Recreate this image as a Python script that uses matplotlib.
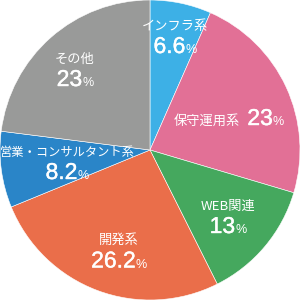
import matplotlib
matplotlib.use("Agg")
import matplotlib.pyplot as plt
import matplotlib.patheffects as pe
from matplotlib.offsetbox import TextArea, HPacker, AnnotationBbox

# data (percent, clockwise from 12 o'clock)
categories = ["インフラ系", "保守運用系", "WEB関連", "開発系", "営業・コンサルタント系", "その他"]
values = [6.6, 23, 13, 26.2, 8.2, 23]
value_labels = ["6.6", "23", "13", "26.2", "8.2", "23"]
colors = ["#3DB0E6", "#E27096", "#45A85E", "#EA6E4A", "#2A85C8", "#999A99"]

# where the percentage sits (pie radius = 1); the name goes just above it
label_pos = [(0.167, 0.69), (0.527, 0.21), (0.52, -0.51), (-0.207, -0.74), (-0.553, -0.15), (-0.5, 0.47)]
one_line = [False, True, False, False, False, False]
name_gap = 0.135

num_font = "Liberation Sans"
jp_font = ["Noto Sans CJK JP", "DejaVu Sans"]
heavier = [pe.withStroke(linewidth=0.3, foreground="white")]

fig = plt.figure(figsize=(3, 3), dpi=100)
ax = fig.add_axes([0, 0, 1, 1])
ax.pie(values, colors=colors, startangle=90, counterclock=False, radius=1,
       wedgeprops={"edgecolor": "white", "linewidth": 0.4})
ax.set_xlim(-1.0, 1.0)
ax.set_ylim(-1.0, 1.0)
ax.set_aspect("equal")
ax.axis("off")


def value_box(txt):
    big = TextArea(txt, textprops=dict(color="white", fontsize=16.5, family=num_font,
                                       path_effects=heavier))
    pct = TextArea("%", textprops=dict(color="white", fontsize=9, family=num_font))
    return HPacker(children=[big, pct], align="baseline", pad=0, sep=0)


for name, val, (x, y), single in zip(categories, value_labels, label_pos, one_line):
    fs = 8.8 if len(name) > 8 else 9.5
    if single:
        nm = TextArea(name, textprops=dict(color="white", fontsize=fs, family=jp_font))
        box = HPacker(children=[nm, value_box(val)], align="baseline", pad=0, sep=5)
        ax.add_artist(AnnotationBbox(box, (x, y), frameon=False, pad=0))
    else:
        ax.text(x, y + name_gap, name, color="white", fontsize=fs, family=jp_font,
                ha="center", va="center")
        ax.add_artist(AnnotationBbox(value_box(val), (x, y), frameon=False, pad=0))

fig.savefig("out.png", dpi=100)
